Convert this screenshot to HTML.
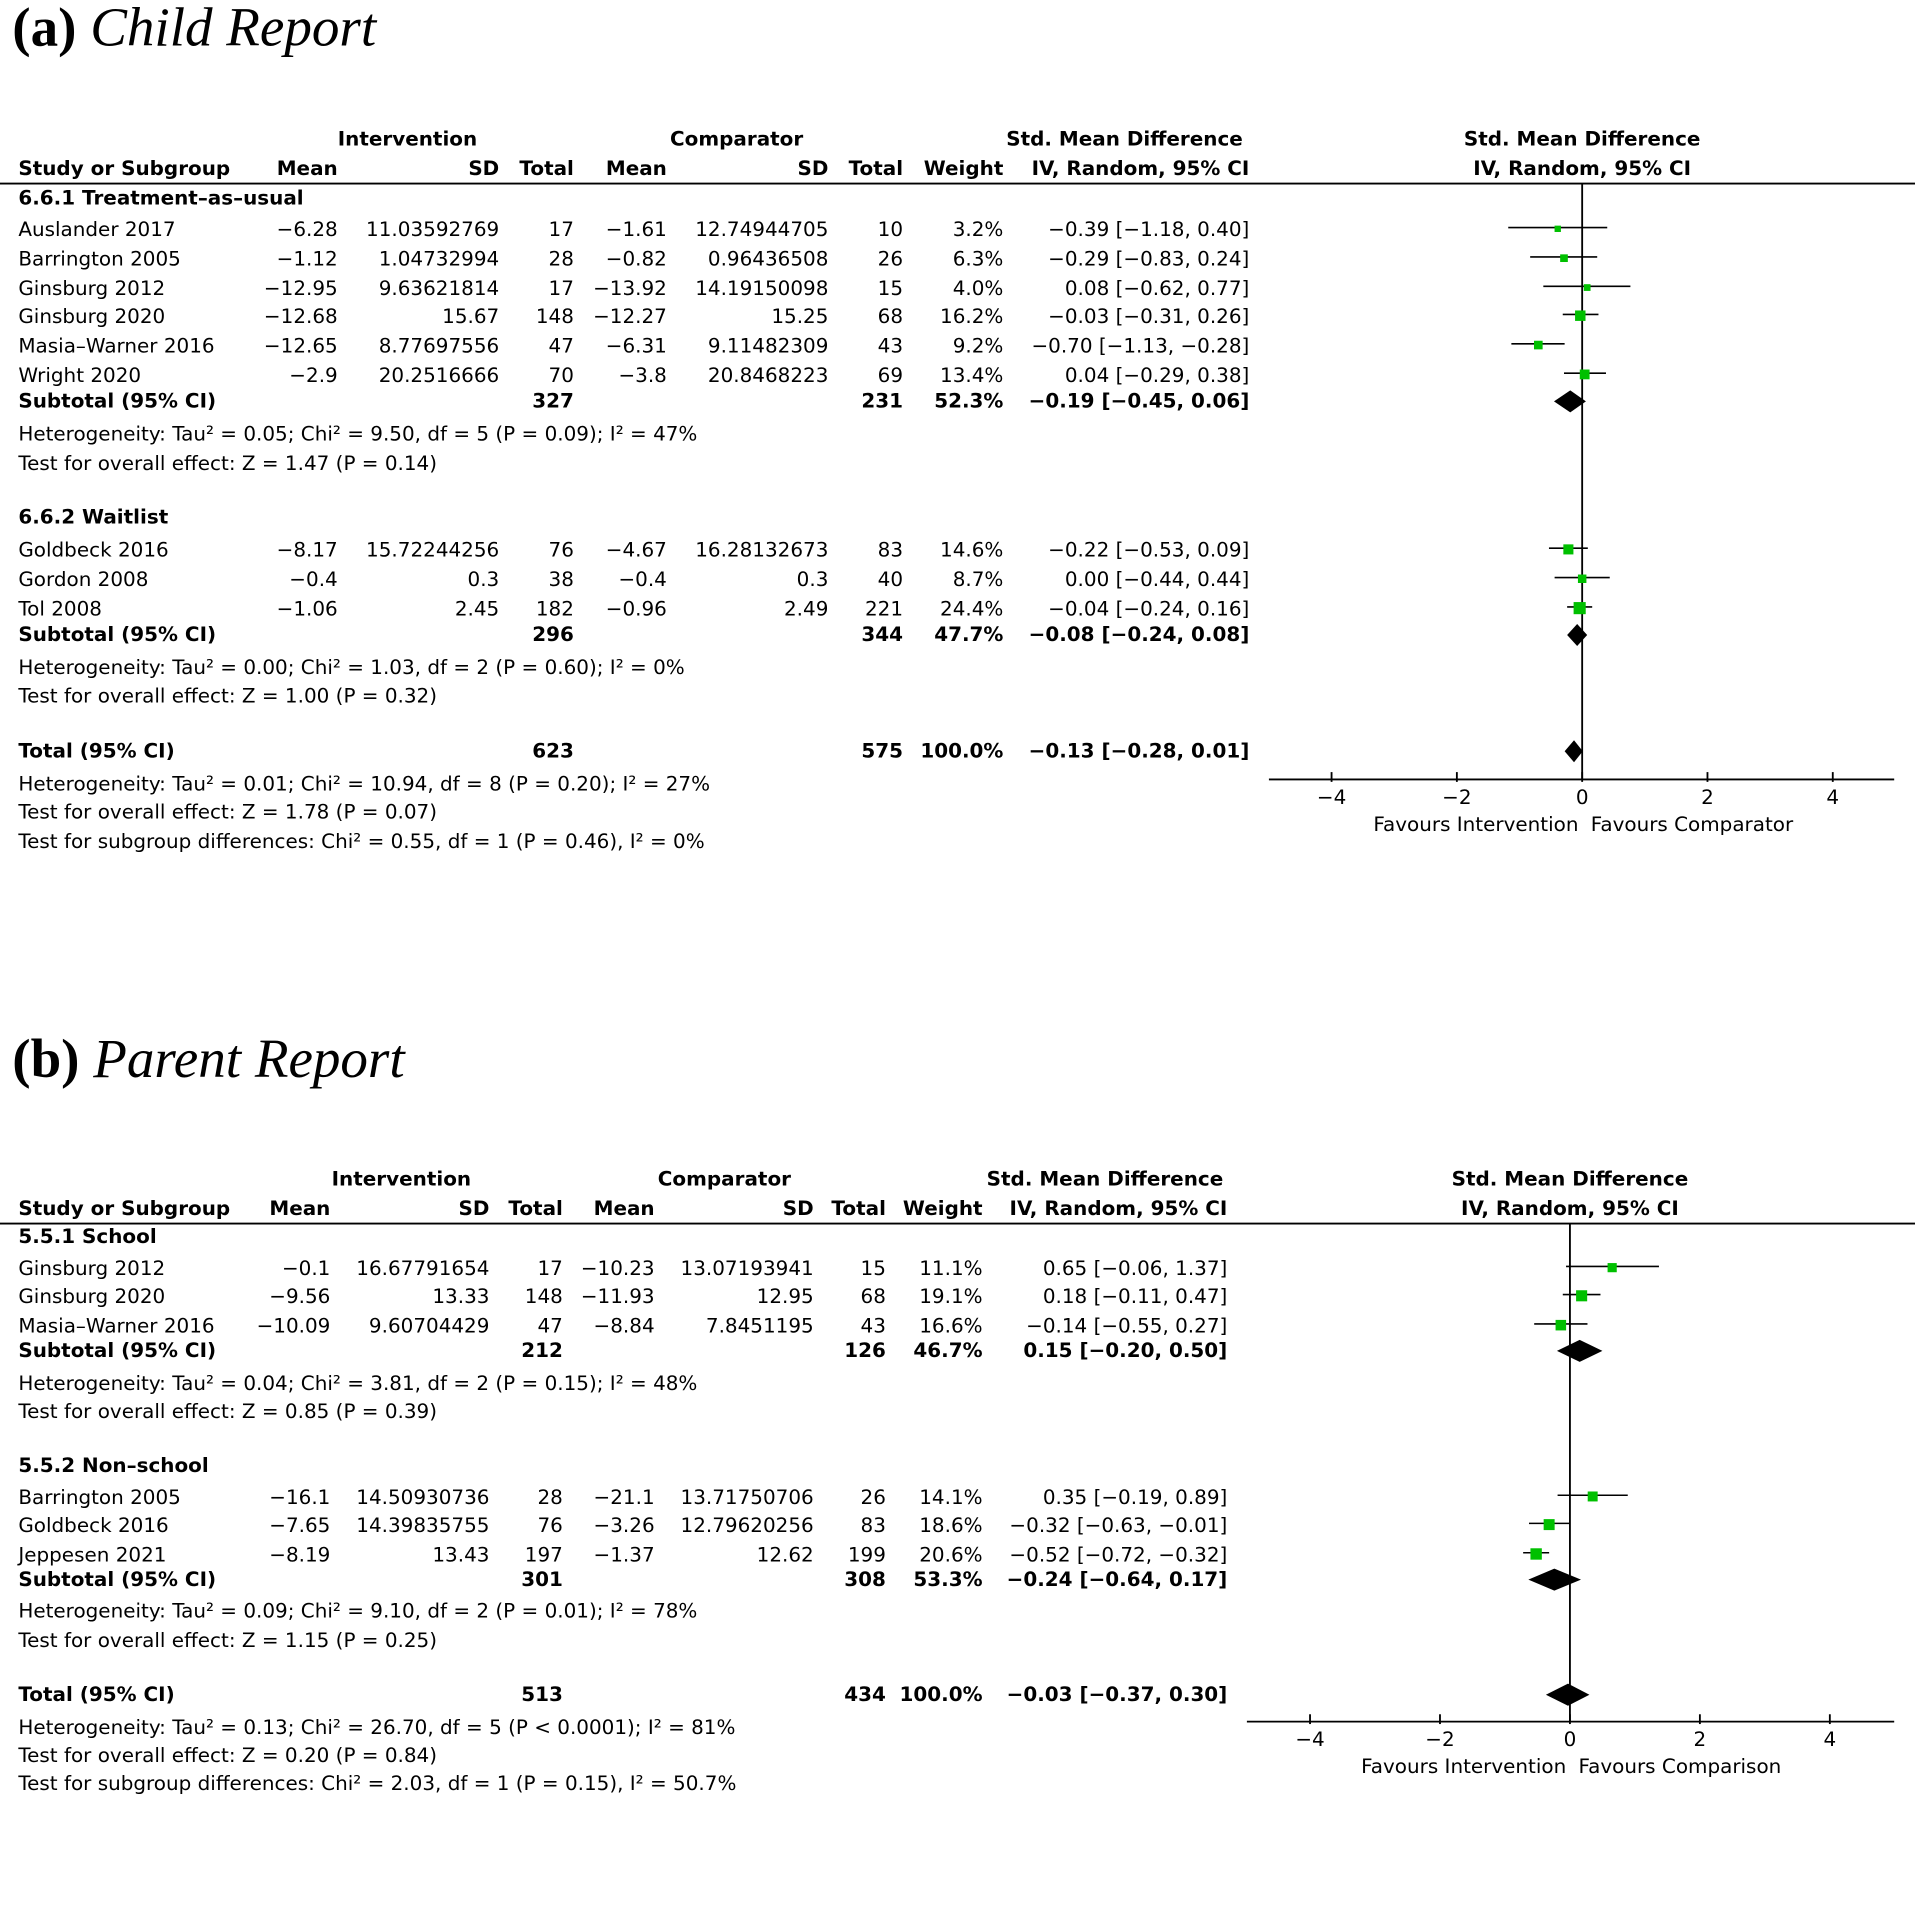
<!DOCTYPE html>
<html><head><meta charset="utf-8"><style>
html,body{margin:0;padding:0;background:#fff;}
svg{display:block;}
text{font-family:"DejaVu Sans","Liberation Sans",sans-serif;font-size:16.3px;fill:#000;}
.b{font-weight:bold;}
.t{font-family:"Liberation Serif",serif;font-size:45px;}
</style></head><body>
<svg id="fig" width="1915" height="1912" viewBox="0 0 1565 1562.6" preserveAspectRatio="none" xmlns="http://www.w3.org/2000/svg">
<text class="t" x="10" y="37"><tspan font-weight="bold">(a)</tspan> <tspan font-style="italic">Child Report</tspan></text>
<text class="t" x="10" y="880"><tspan font-weight="bold">(b)</tspan> <tspan font-style="italic">Parent Report</tspan></text>
</svg>
<script>
// ---- Panel A data ----
const aStudies = ["Auslander 2017","Barrington 2005","Ginsburg 2012","Ginsburg 2020","Masia\u2013Warner 2016","Wright 2020","Goldbeck 2016","Gordon 2008","Tol 2008"];
const aIntMean = ["\u22126.28","\u22121.12","\u221212.95","\u221212.68","\u221212.65","\u22122.9","\u22128.17","\u22120.4","\u22121.06"];
const aIntSD = ["11.03592769","1.04732994","9.63621814","15.67","8.77697556","20.2516666","15.72244256","0.3","2.45"];
const aIntN = ["17","28","17","148","47","70","76","38","182"];
const aCmpMean = ["\u22121.61","\u22120.82","\u221213.92","\u221212.27","\u22126.31","\u22123.8","\u22124.67","\u22120.4","\u22120.96"];
const aCmpSD = ["12.74944705","0.96436508","14.19150098","15.25","9.11482309","20.8468223","16.28132673","0.3","2.49"];
const aCmpN = ["10","26","15","68","43","69","83","40","221"];
const aWeight = [3.2,6.3,4.0,16.2,9.2,13.4,14.6,8.7,24.4];
const aEst = [-0.39,-0.29,0.08,-0.03,-0.70,0.04,-0.22,0.00,-0.04];
const aLo = [-1.18,-0.83,-0.62,-0.31,-1.13,-0.29,-0.53,-0.44,-0.24];
const aHi = [0.40,0.24,0.77,0.26,-0.28,0.38,0.09,0.44,0.16];
const aSumEst = [-0.19,-0.08,-0.13];
const aSumLo = [-0.45,-0.24,-0.28];
const aSumHi = [0.06,0.08,0.01];
const aSumW = ["52.3%","47.7%","100.0%"];
const aSumIntN = ["327","296","623"];
const aSumCmpN = ["231","344","575"];
// ---- Panel B data ----
const bStudies = ["Ginsburg 2012","Ginsburg 2020","Masia\u2013Warner 2016","Barrington 2005","Goldbeck 2016","Jeppesen 2021"];
const bIntMean = ["\u22120.1","\u22129.56","\u221210.09","\u221216.1","\u22127.65","\u22128.19"];
const bIntSD = ["16.67791654","13.33","9.60704429","14.50930736","14.39835755","13.43"];
const bIntN = ["17","148","47","28","76","197"];
const bCmpMean = ["\u221210.23","\u221211.93","\u22128.84","\u221221.1","\u22123.26","\u22121.37"];
const bCmpSD = ["13.07193941","12.95","7.8451195","13.71750706","12.79620256","12.62"];
const bCmpN = ["15","68","43","26","83","199"];
const bWeight = [11.1,19.1,16.6,14.1,18.6,20.6];
const bEst = [0.65,0.18,-0.14,0.35,-0.32,-0.52];
const bLo = [-0.06,-0.11,-0.55,-0.19,-0.63,-0.72];
const bHi = [1.37,0.47,0.27,0.89,-0.01,-0.32];
const bSumEst = [0.15,-0.24,-0.03];
const bSumLo = [-0.20,-0.64,-0.37];
const bSumHi = [0.50,0.17,0.30];
const bSumW = ["46.7%","53.3%","100.0%"];
const bSumIntN = ["212","301","513"];
const bSumCmpN = ["126","308","434"];
const ticks = [-4,-2,0,2,4];

const NS="http://www.w3.org/2000/svg";
const svg=document.getElementById('fig');
function el(tag,attrs){const e=document.createElementNS(NS,tag);for(const k in attrs)e.setAttribute(k,attrs[k]);svg.appendChild(e);return e;}
function txt(x,y,s,anchor,bold){const e=el('text',{x:x,y:y,'text-anchor':anchor||'start'});if(bold)e.setAttribute('class','b');e.textContent=s;return e;}
function fmt(v){const s=Math.abs(v).toFixed(2);return (v<0?'\u2212':'')+s;}
function ci(e,l,h){return fmt(e)+' ['+fmt(l)+', '+fmt(h)+']';}

function panel(P){
  const X=v=>P.x0+v*P.unit;
  let t;
  t=txt(P.col.intc,P.h1,'Intervention','middle',1);
  t=txt(P.col.cmpc,P.h1,'Comparator','middle',1);
  t=txt(P.col.smdc,P.h1,'Std. Mean Difference','middle',1);
  t=txt(P.x0,P.h1,'Std. Mean Difference','middle',1);
  const h2=P.h1+24;
  txt(15,h2,'Study or Subgroup','start',1);
  txt(P.col.m,h2,'Mean','end',1);txt(P.col.sd,h2,'SD','end',1);txt(P.col.n,h2,'Total','end',1);
  txt(P.col.cm,h2,'Mean','end',1);txt(P.col.csd,h2,'SD','end',1);txt(P.col.cn,h2,'Total','end',1);
  txt(P.col.w,h2,'Weight','end',1);txt(P.col.ci,h2,'IV, Random, 95% CI','end',1);
  txt(P.x0,h2,'IV, Random, 95% CI','middle',1);
  const hl=el('line',{x1:0,x2:1565,y1:h2+7,y2:h2+7,stroke:'#000','stroke-width':1.5});
  
  const zl=el('line',{x1:X(0),x2:X(0),y1:h2+7,y2:P.axisY,stroke:'#000','stroke-width':1.5});
  
  P.groups.forEach((g,i)=>{const e=txt(15,g,P.groupNames[i],'start',1);});
  P.studies.forEach((s,i)=>{
    const y=P.rowY[i];
    const n=txt(15,y,s);
    txt(P.col.m,y,P.im[i],'end');txt(P.col.sd,y,P.isd[i],'end');txt(P.col.n,y,P.in[i],'end');
    txt(P.col.cm,y,P.cm[i],'end');txt(P.col.csd,y,P.csd[i],'end');txt(P.col.cn,y,P.cn[i],'end');
    txt(P.col.w,y,P.w[i].toFixed(1)+'%','end');txt(P.col.ci,y,ci(P.est[i],P.lo[i],P.hi[i]),'end');
    const cy=y-7;
    const l=el('line',{x1:X(P.lo[i]),x2:X(P.hi[i]),y1:cy,y2:cy,stroke:'#000','stroke-width':1.3});
    
    const sz=2.5+Math.sqrt(P.w[i])*1.5;
    const r=el('rect',{x:X(P.est[i])-sz/2,y:cy-sz/2+1,width:sz,height:sz,fill:'#00c000'});
    
  });
  P.sumY.forEach((y,i)=>{
    const lab=i<2?'Subtotal (95% CI)':'Total (95% CI)';
    const e=txt(15,y,lab,'start',1);
    txt(P.col.n,y,P.sin[i],'end',1);txt(P.col.cn,y,P.scn[i],'end',1);txt(P.col.w,y,P.sw[i],'end',1);
    txt(P.col.ci,y,ci(P.sEst[i],P.sLo[i],P.sHi[i]),'end',1);
    const cy=y-5,hh=9;
    const d=el('polygon',{points:[X(P.sLo[i])+','+cy,X(P.sEst[i])+','+(cy-hh),X(P.sHi[i])+','+cy,X(P.sEst[i])+','+(cy+hh)].join(' '),fill:'#000'});
    
  });
  P.notes.forEach((n,i)=>{const e=txt(15,n[0],n[1]);});
  const ax=el('line',{x1:P.axL,x2:P.axR,y1:P.axisY,y2:P.axisY,stroke:'#000','stroke-width':1.5});
  
  ticks.forEach(v=>{
    const tk=el('line',{x1:X(v),x2:X(v),y1:P.axisY-6,y2:P.axisY+2,stroke:'#000','stroke-width':1.5});
    
    const tl=txt(X(v),P.axisY+20,(v<0?'\u2212':'')+Math.abs(v),'middle');
    
  });
  let f=txt(X(0)-3,P.axisY+42,'Favours Intervention','end');
  f=txt(X(0)+7,P.axisY+42,P.favR,'start');
}

panel({x0:1293,unit:51.2,h1:119,axisY:637,axL:1037,axR:1548,favR:'Favours Comparator',
  col:{intc:333,cmpc:602,smdc:919,m:276,sd:408,n:469,cm:545,csd:677,cn:738,w:820,ci:1021},
  groups:[167,428],groupNames:['6.6.1 Treatment\u2013as\u2013usual','6.6.2 Waitlist'],
  studies:aStudies,rowY:[193,217,241,264,288,312,455,479,503],
  im:aIntMean,isd:aIntSD,in:aIntN,cm:aCmpMean,csd:aCmpSD,cn:aCmpN,w:aWeight,est:aEst,lo:aLo,hi:aHi,
  sumY:[333,524,619],sin:aSumIntN,scn:aSumCmpN,sw:aSumW,sEst:aSumEst,sLo:aSumLo,sHi:aSumHi,
  notes:[[360,'Heterogeneity: Tau\u00b2 = 0.05; Chi\u00b2 = 9.50, df = 5 (P = 0.09); I\u00b2 = 47%'],[384,'Test for overall effect: Z = 1.47 (P = 0.14)'],
    [551,'Heterogeneity: Tau\u00b2 = 0.00; Chi\u00b2 = 1.03, df = 2 (P = 0.60); I\u00b2 = 0%'],[574,'Test for overall effect: Z = 1.00 (P = 0.32)'],
    [646,'Heterogeneity: Tau\u00b2 = 0.01; Chi\u00b2 = 10.94, df = 8 (P = 0.20); I\u00b2 = 27%'],[669,'Test for overall effect: Z = 1.78 (P = 0.07)'],
    [693,'Test for subgroup differences: Chi\u00b2 = 0.55, df = 1 (P = 0.46), I\u00b2 = 0%']]});

panel({x0:1283,unit:53.1,h1:969,axisY:1407,axL:1019,axR:1548,favR:'Favours Comparison',
  col:{intc:328,cmpc:592,smdc:903,m:270,sd:400,n:460,cm:535,csd:665,cn:724,w:803,ci:1003},
  groups:[1016,1203],groupNames:['5.5.1 School','5.5.2 Non\u2013school'],
  studies:bStudies,rowY:[1042,1065,1089,1229,1252,1276],
  im:bIntMean,isd:bIntSD,in:bIntN,cm:bCmpMean,csd:bCmpSD,cn:bCmpN,w:bWeight,est:bEst,lo:bLo,hi:bHi,
  sumY:[1109,1296,1390],sin:bSumIntN,scn:bSumCmpN,sw:bSumW,sEst:bSumEst,sLo:bSumLo,sHi:bSumHi,
  notes:[[1136,'Heterogeneity: Tau\u00b2 = 0.04; Chi\u00b2 = 3.81, df = 2 (P = 0.15); I\u00b2 = 48%'],[1159,'Test for overall effect: Z = 0.85 (P = 0.39)'],
    [1322,'Heterogeneity: Tau\u00b2 = 0.09; Chi\u00b2 = 9.10, df = 2 (P = 0.01); I\u00b2 = 78%'],[1346,'Test for overall effect: Z = 1.15 (P = 0.25)'],
    [1417,'Heterogeneity: Tau\u00b2 = 0.13; Chi\u00b2 = 26.70, df = 5 (P < 0.0001); I\u00b2 = 81%'],[1440,'Test for overall effect: Z = 0.20 (P = 0.84)'],
    [1463,'Test for subgroup differences: Chi\u00b2 = 2.03, df = 1 (P = 0.15), I\u00b2 = 50.7%']]});
</script>
</body></html>
